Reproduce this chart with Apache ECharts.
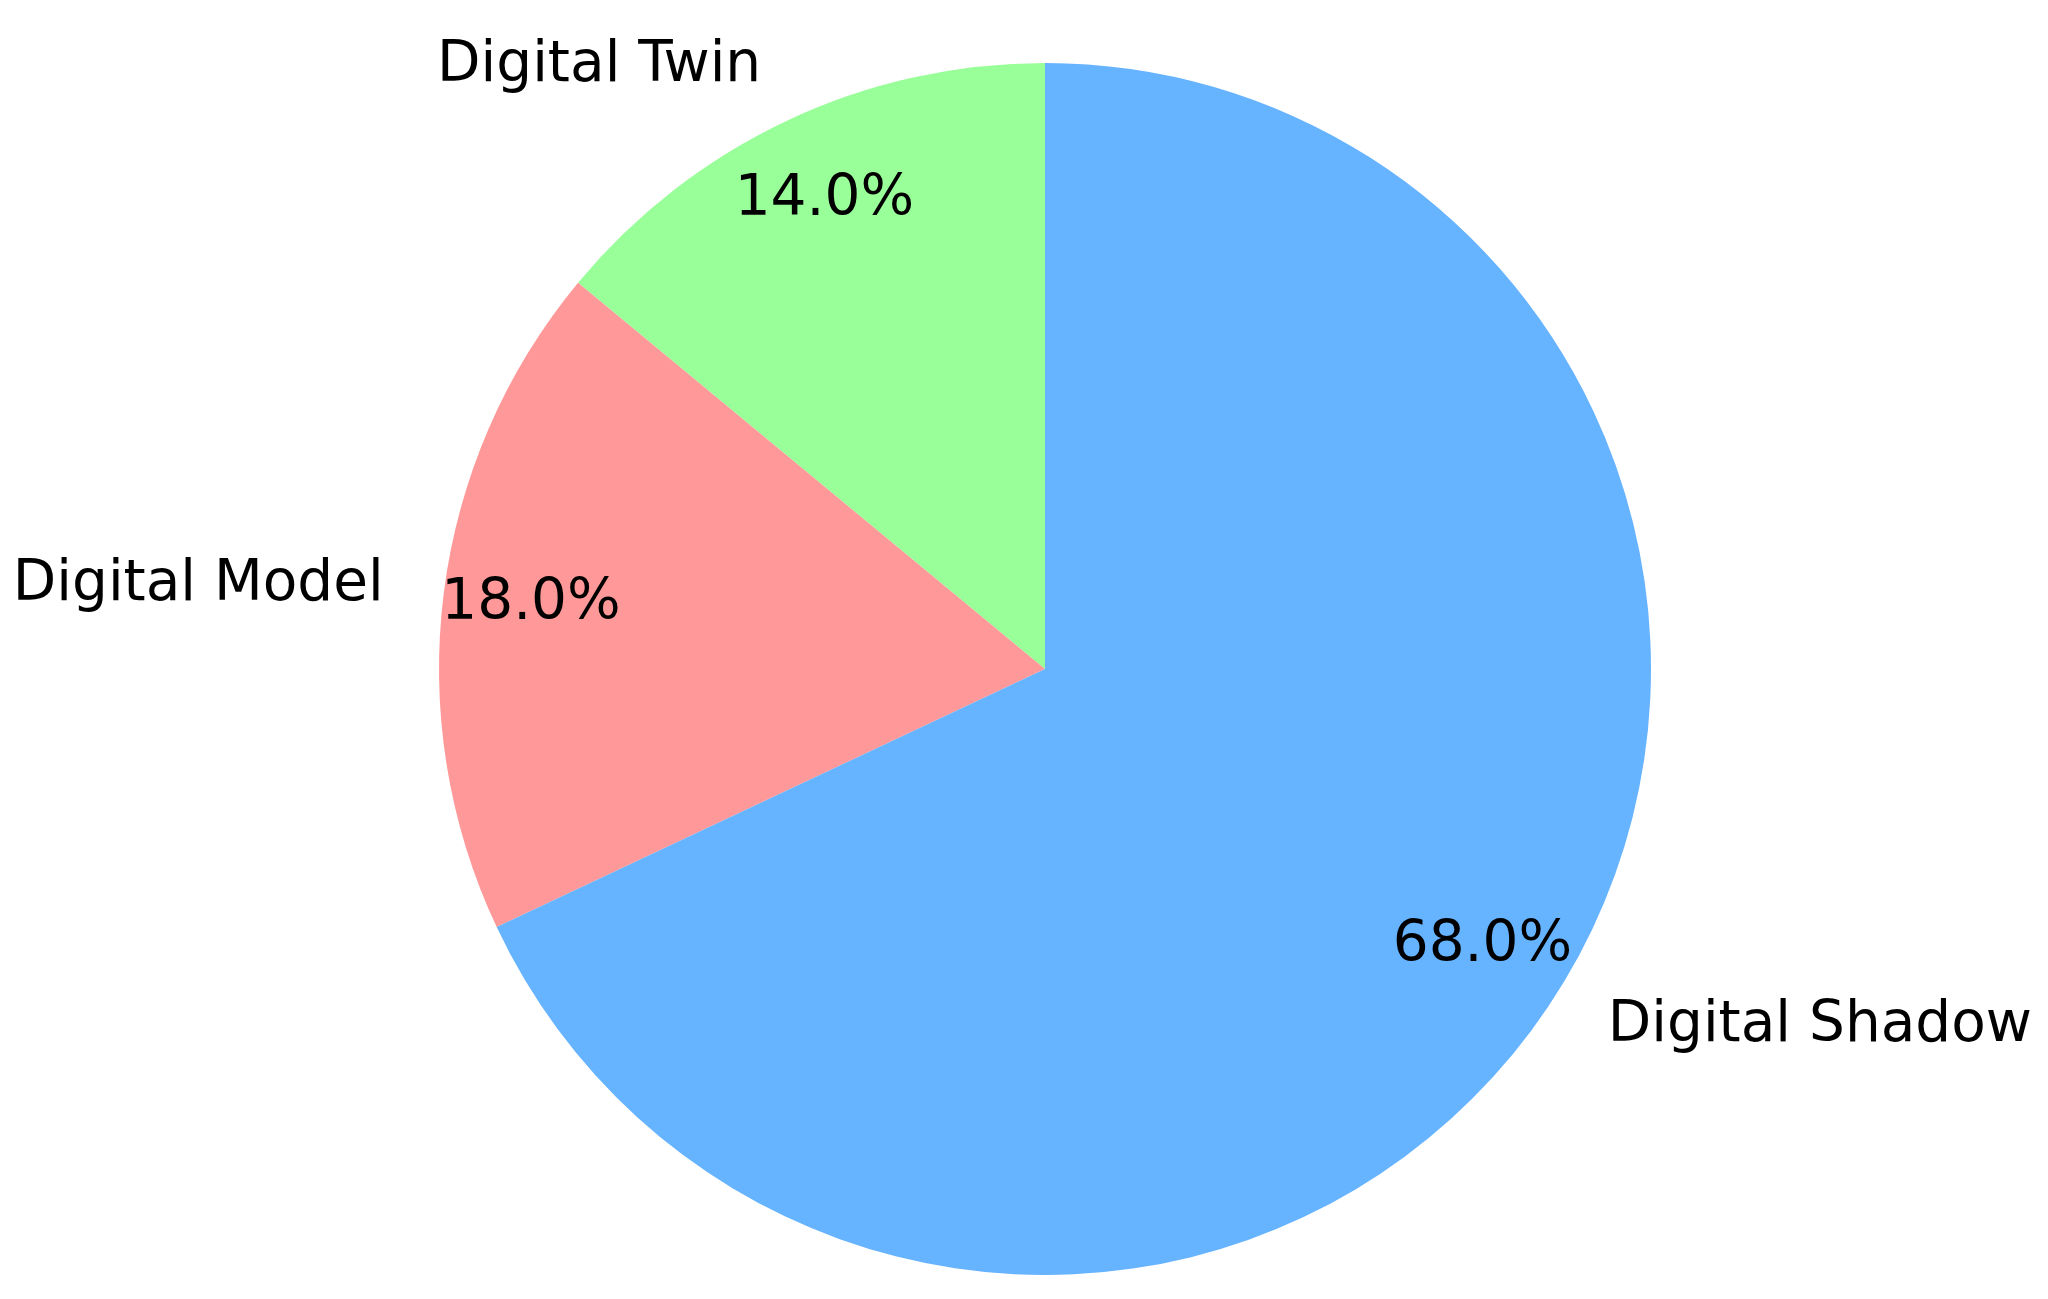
<!DOCTYPE html>
<html lang="en">
<head>
  <meta charset="UTF-8">
  <title>Digital Twin Pie</title>
  <script src="https://cdn.jsdelivr.net/npm/echarts@6.0.0/dist/echarts.min.js"></script>
  <style>
    body {
      margin: 0;
      padding: 0;
      background-color: #ffffff;
    }
    #chart {
      width: 2048px;
      height: 1299px;
    }
  </style>
</head>
<body>
  <div id="chart"></div>

  <script>
    // data, in the order matplotlib draws it (counterclockwise from the top)
    var categories = ['Digital Twin', 'Digital Model', 'Digital Shadow'];
    var values = [14, 18, 68];
    var colors = ['#99ff99', '#ff9999', '#66b3ff'];

    var cx = 1045;
    var cy = 669;
    var r = 606;
    var fontFamily = '"DejaVu Sans", sans-serif';
    var fontSize = 56.5;

    var pieData = categories.map(function(name, i) {
      return { name: name, value: values[i], itemStyle: { color: colors[i] } };
    });

    var chart = echarts.init(document.getElementById('chart'));

    chart.setOption({
      animation: false,
      color: colors,
      series: [
        {
          // slices + category labels at 1.1 r
          type: 'pie',
          center: [cx, cy],
          radius: [0, r],
          startAngle: 90,
          clockwise: false,
          avoidLabelOverlap: false,
          silent: true,
          itemStyle: { borderWidth: 0 },
          label: {
            show: true,
            position: 'outside',
            formatter: '{b}',
            color: '#000',
            fontSize: fontSize,
            fontFamily: fontFamily,
            distanceToLabelLine: 0,
            bleedMargin: 0,
            overflow: 'none'
          },
          labelLine: {
            show: false,
            length: r * 0.1,
            length2: 0
          },
          emphasis: { disabled: true },
          data: pieData
        },
        {
          // transparent ring so the percent labels sit at 0.85 r
          type: 'pie',
          center: [cx, cy],
          radius: [r * 0.7, r],
          startAngle: 90,
          clockwise: false,
          avoidLabelOverlap: false,
          silent: true,
          itemStyle: { color: 'rgba(0,0,0,0)', borderWidth: 0 },
          label: {
            show: true,
            position: 'inside',
            formatter: function(p) {
              return p.percent.toFixed(1) + '%';
            },
            color: '#000',
            fontSize: fontSize,
            fontFamily: fontFamily,
            overflow: 'none'
          },
          labelLine: { show: false },
          emphasis: { disabled: true },
          data: categories.map(function(name, i) {
            return { name: name, value: values[i] };
          })
        }
      ]
    });
  </script>
</body>
</html>
